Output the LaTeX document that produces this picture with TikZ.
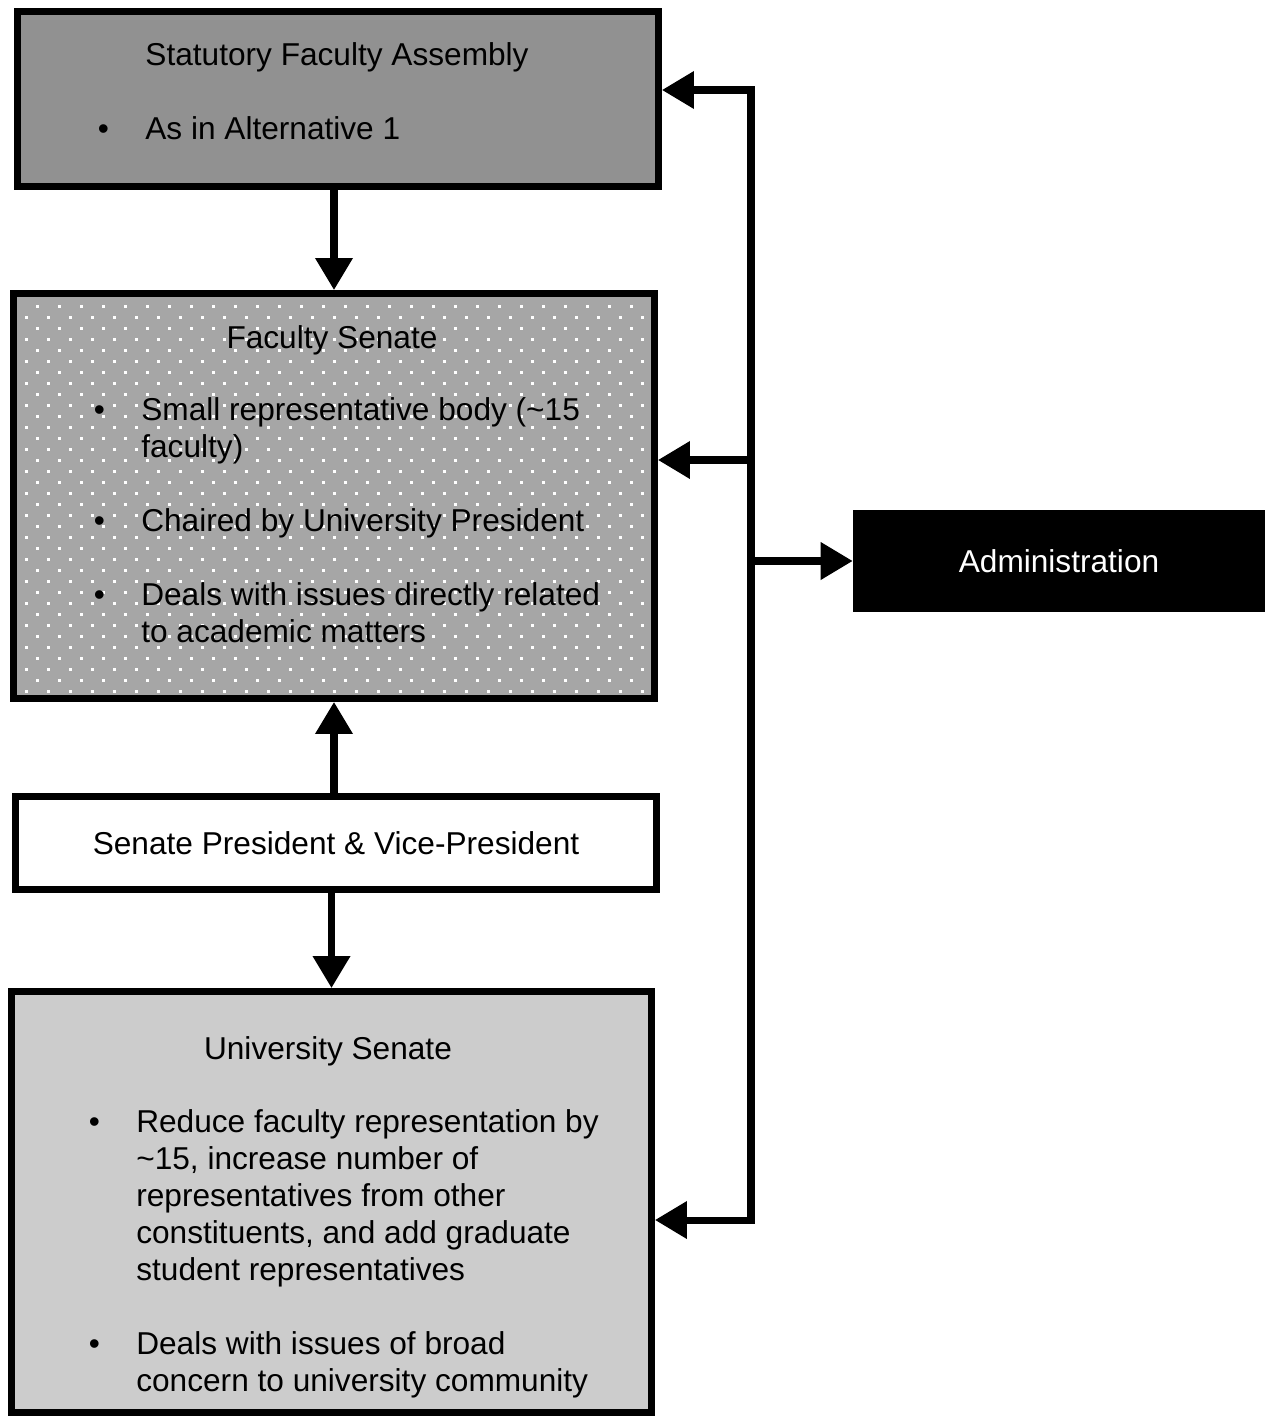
\documentclass[tikz,border=0pt]{standalone}
\usepackage{fontspec}
\setmainfont{Liberation Sans}
\usetikzlibrary{arrows.meta, positioning}

\definecolor{assemblygray}{gray}{0.57}
\definecolor{senategray}{gray}{0.65}
\definecolor{univgray}{gray}{0.8}
\newcommand{\itm}{\llap{\makebox[0.95cm][l]{\textbullet}}}

\begin{document}
\begin{tikzpicture}[
        x=0.02cm, y=-0.02cm,
        box/.style={draw, line width=4pt, inner sep=0pt, minimum width=12.82cm},
        txt/.style={inner sep=0pt, align=left, font=\fontsize{18}{21}\selectfont},
        arrow/.style={-{Triangle[length=0.64cm, width=0.72cm]}, line width=4pt},
        dotfill/.style={path picture={
            \foreach \i in {0,...,29}
                \foreach \j in {0,...,18} {
                    \fill[white] ([shift={(11.9+22*\i, 0.9+22*\j)}]path picture bounding box.north west) rectangle +(2.6,2.6);
                    \fill[white] ([shift={(22.9+22*\i, 11.9+22*\j)}]path picture bounding box.north west) rectangle +(2.6,2.6);
                }
        }}
        ]

        \useasboundingbox (0,0) rectangle (1268,1416);

        % Boxes
        \node[box, fill=assemblygray, minimum height=3.5cm] (assembly) at (338,99) {};
        \node[box, fill=senategray, dotfill, minimum height=8.1cm] (senate) at (334,496) {};
        \node[box, fill=white, minimum height=1.86cm, font=\fontsize{18}{21}\selectfont] (officers) at (336,843) {Senate President \& Vice-President};
        \node[box, fill=univgray, minimum width=12.8cm, minimum height=8.42cm] (univ) at (331.5,1202) {};
        \node[fill=black, text=white, inner sep=0pt, minimum width=8.24cm, minimum height=2.04cm, font=\fontsize{18}{21}\selectfont] (admin) at (1059,561) {Administration};

        % Texts (base = last line)
        \node[txt, anchor=base] (assembly-title) at (337,66) {Statutory Faculty Assembly};
        \node[txt, anchor=base west] (assembly-list) at (145,139) {\itm As in Alternative 1};
        \node[txt, anchor=base] (senate-title) at (332,348) {Faculty Senate};
        \node[txt, anchor=base west] (senate-list) at (141,642) {\itm Small representative body (\textasciitilde15\\ faculty)\\[21pt]\itm Chaired by University President\\[21pt]\itm Deals with issues directly related\\ to academic matters};
        \node[txt, anchor=base] (univ-title) at (328,1059) {University Senate};
        \node[txt, anchor=base west] (univ-list) at (136,1391) {\itm Reduce faculty representation by\\ \textasciitilde15, increase number of\\ representatives from other\\ constituents, and add graduate\\ student representatives\\[21pt]\itm Deals with issues of broad\\ concern to university community};

        % Connectors
        \coordinate (bus-top) at (751,90);
        \coordinate (bus-bot) at (751,1220);
        \coordinate (bus-senate) at (751,460);

        \draw [arrow] (bus-bot) -- (bus-top) -- (assembly.east |- bus-top);
        \draw [arrow] (bus-top) -- (bus-bot) -- (univ.east |- bus-bot);
        \draw [arrow] (bus-senate) -- (senate.east |- bus-senate);
        \draw [arrow] (bus-top |- admin.west) -- (admin.west);
        \draw [arrow] (assembly.south -| senate.north) -- (senate.north);
        \draw [arrow] (officers.north -| senate.south) -- (senate.south);
        \draw [arrow] (officers.south -| univ.north) -- (univ.north);

\end{tikzpicture}
\end{document}
